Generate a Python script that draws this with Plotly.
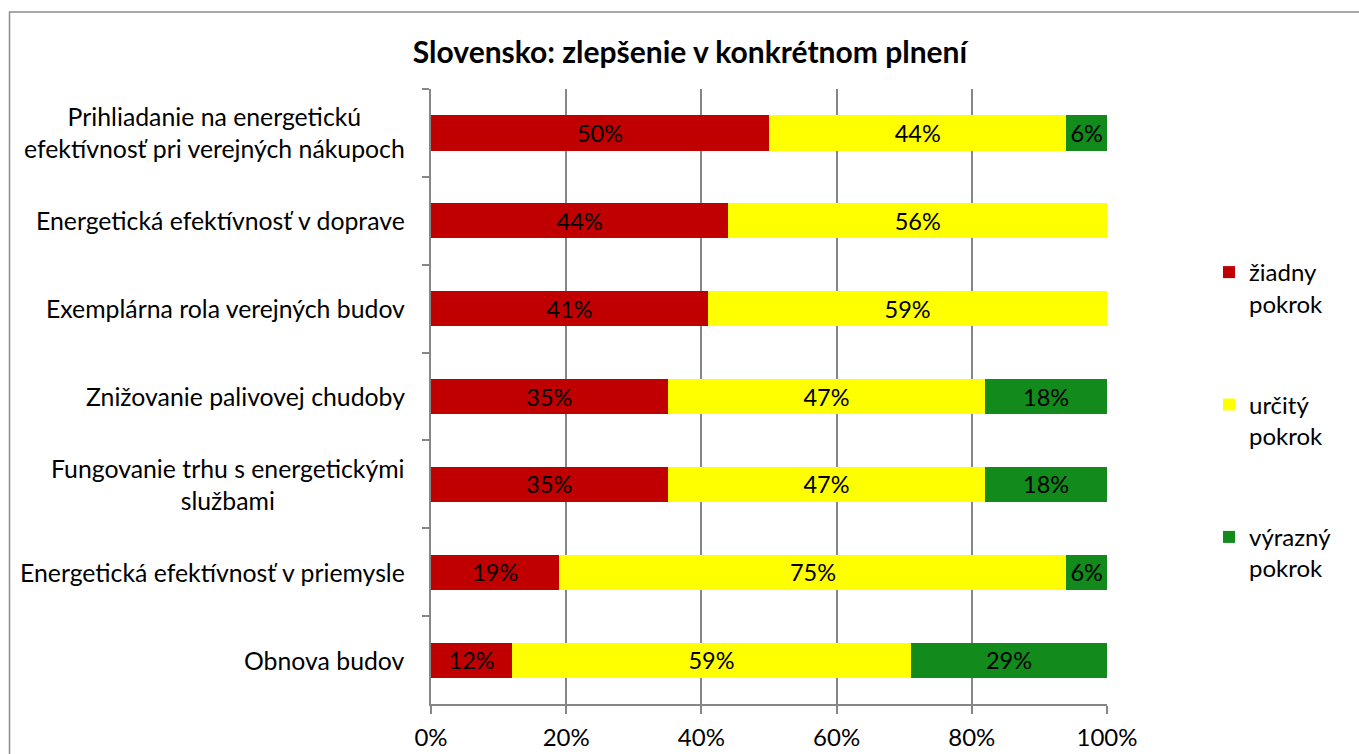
import plotly.graph_objects as go

categories = [
    "Prihliadanie na energetickú<br>efektívnosť pri verejných nákupoch",
    "Energetická efektívnosť v doprave",
    "Exemplárna rola verejných budov",
    "Znižovanie palivovej chudoby",
    "Fungovanie trhu s energetickými<br>službami",
    "Energetická efektívnosť v priemysle",
    "Obnova budov",
]
series_names = ["žiadny<br>pokrok", "určitý<br>pokrok", "výrazný<br>pokrok"]
ziadny = [50, 44, 41, 35, 35, 19, 12]
urcity = [44, 56, 59, 47, 47, 75, 59]
vyrazny = [6, 0, 0, 18, 18, 6, 29]
colors = ["#C00000", "#FFFF00", "#128A1C"]
x_ticks = [0, 20, 40, 60, 80, 100]
x_tick_labels = ["0%", "20%", "40%", "60%", "80%", "100%"]
title_text = "Slovensko: zlepšenie v konkrétnom plnení"

FONT = "Lato, Carlito, Calibri, sans-serif"
FS = 24
FS_CAT = 24.8
W, H = 1359, 754
L, R, T, B = 431, 1359 - 1107, 89, 754 - 704
plot_w, plot_h = W - L - R, H - T - B

fig = go.Figure()
for i, (name, vals) in enumerate(zip(series_names, [ziadny, urcity, vyrazny])):
    fig.add_trace(go.Bar(
        y=categories, x=vals, name=name, orientation="h",
        marker=dict(color=colors[i], line=dict(width=0)),
        text=[f"{v}%" if v > 0 else "" for v in vals],
        textposition="inside", insidetextanchor="middle", textangle=0,
        textfont=dict(family=FONT, size=23.5, color="black"),
        constraintext="none", legendgroup=f"g{i}",
        hoverinfo="x+name",
    ))

# category labels as annotations (centered multi-line, right-anchored)
for c in categories:
    fig.add_annotation(
        x=0, y=c, xref="paper", yref="y", text=c, showarrow=False,
        xanchor="right", yanchor="middle", align="center", xshift=-24,
        font=dict(family=FONT, size=FS_CAT, color="black"),
    )

# chart frame
fig.add_shape(type="rect", xref="paper", yref="paper",
              x0=(9.5 - L) / plot_w, x1=1.6,
              y0=-0.3, y1=1 + (T - 12) / plot_h,
              line=dict(color="#8C8C8C", width=1.5), layer="below")

fig.update_layout(
    width=W, height=H,
    margin=dict(l=L, r=R, t=T, b=B, autoexpand=False),
    barmode="stack", bargap=0.6,
    plot_bgcolor="white", paper_bgcolor="white",
    font=dict(family=FONT, size=FS, color="black"),
    title=dict(text=f"<b>{title_text}</b>", x=690 / W, xref="container",
               xanchor="center", y=1 - 52 / H, yref="container", yanchor="middle",
               font=dict(family=FONT, size=30, color="black")),
    xaxis=dict(range=[0, 100], tickvals=x_ticks, ticktext=x_tick_labels,
               showgrid=True, gridcolor="#868686", gridwidth=1.5,
               showline=True, linecolor="#868686", linewidth=1.5,
               ticks="outside", ticklen=8, tickcolor="#868686", tickwidth=1.5,
               ticklabelstandoff=3,
               zeroline=False, fixedrange=True,
               tickfont=dict(family=FONT, size=FS, color="black")),
    yaxis=dict(autorange="reversed", showticklabels=False, tickson="boundaries",
               ticks="outside", ticklen=7, tickcolor="#868686", tickwidth=1.5,
               showline=True, linecolor="#868686", linewidth=1.5,
               showgrid=False, zeroline=False, fixedrange=True),
    legend=dict(x=(1209 - L) / plot_w, y=1 - (250 - T) / plot_h,
                xanchor="left", yanchor="top",
                valign="top", tracegroupgap=67,
                font=dict(family=FONT, size=FS, color="black"),
                bgcolor="rgba(0,0,0,0)"),
    showlegend=True,
)

fig.write_html(
    "out.html",
    config={"displayModeBar": False},
    post_script="document.body.style.margin='0';document.body.style.overflow='hidden';",
)
